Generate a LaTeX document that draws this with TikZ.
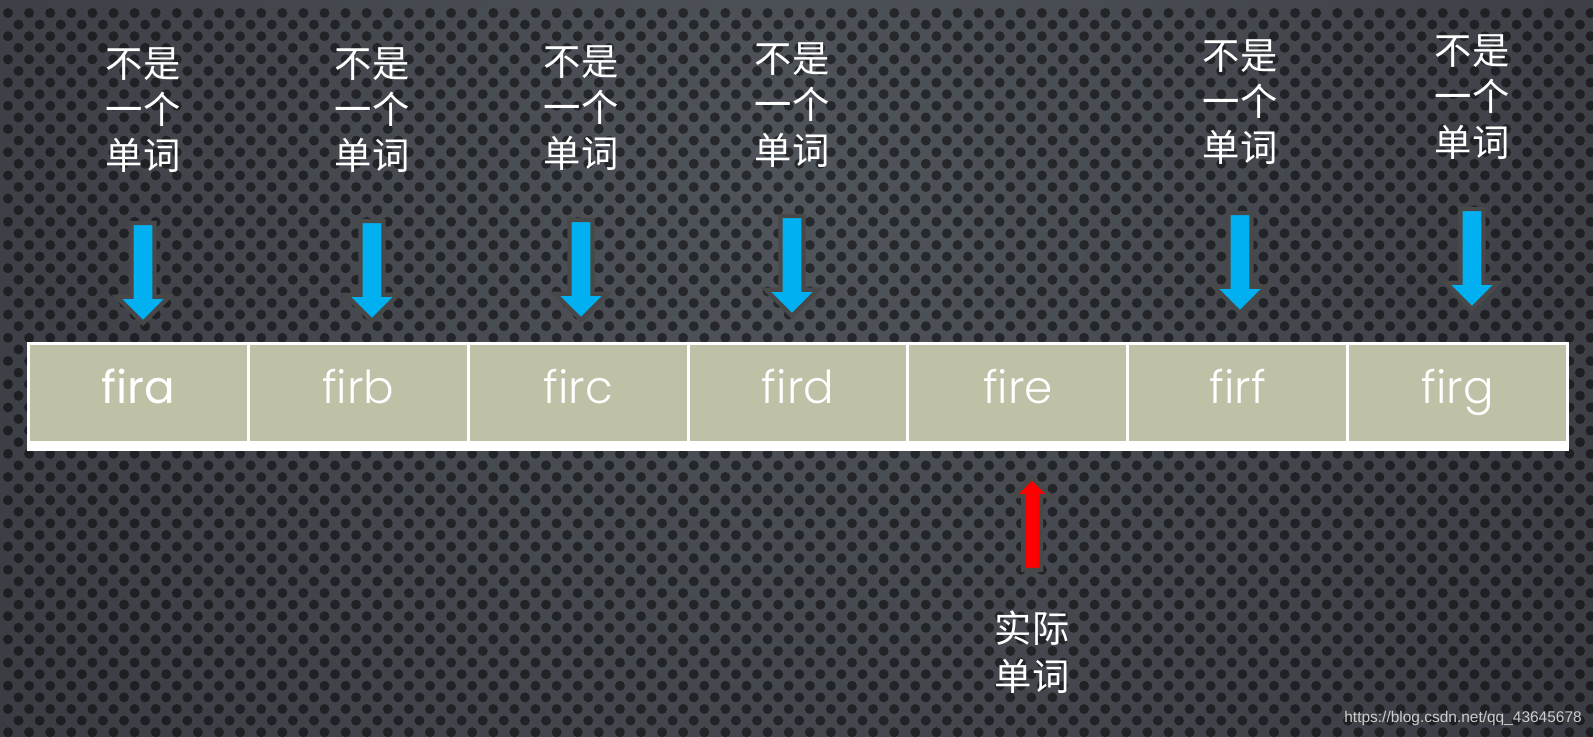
\documentclass[tikz,border=0pt]{standalone}
\usepackage{fontspec}
\usepackage{tikz}
\usetikzlibrary{positioning}
\usetikzlibrary{shapes.arrows}
\newfontfamily\cjk{Noto Sans CJK SC}
\newfontfamily\cellfont{Poppins Light}
\newfontfamily\cellfontreg{Poppins}
\newfontfamily\markfont{Liberation Sans}
\definecolor{bgin}{RGB}{80,84,91}
\definecolor{bgout}{RGB}{42,45,50}
\definecolor{cellfill}{RGB}{191,192,166}
\definecolor{arrowblue}{RGB}{0,176,240}
\definecolor{arrowedge}{RGB}{72,72,72}
\definecolor{markgray}{RGB}{205,205,205}

\begin{document}
\begin{tikzpicture}[x=0.75pt,y=-0.75pt,
  cellbox/.style={draw=white, line width=2.25pt, fill=cellfill,
    minimum width=164.9pt, minimum height=73.9pt, inner sep=0pt, outer sep=0pt,
    text=white, font=\cellfont\fontsize{34}{34}\selectfont,
    text height=20.4pt, text depth=4.4pt},
  notword/.style={text=white, align=center, inner sep=0pt,
    font=\cjk\fontsize{28}{34.5}\selectfont},
  wordarrow/.style={single arrow, draw=arrowedge, fill=arrowblue, line width=3.2pt,
    inner xsep=0pt, inner ysep=7.1pt, single arrow head extend=11pt,
    minimum height=75pt, rotate=-90},
  realarrow/.style={single arrow, draw=arrowedge, fill=red, line width=3pt,
    inner xsep=0pt, inner ysep=5.25pt, single arrow head extend=7pt,
    minimum height=69pt, rotate=90}]
\useasboundingbox (0,0) rectangle (1593,736);
% background
\begin{scope}
 \clip (0,0) rectangle (1593,736);
 \fill[bgout] (0,0) rectangle (1593,736);
 \shade[inner color=bgin, outer color=bgout] (796,200) circle[radius=1200pt];
 \foreach \r in {0,...,64} {
   \fill[black, opacity=0.5] \foreach \c in {0,...,76} {
     ({\c*21.1+mod(\r,2)*10.55+8}, {\r*11.6+13}) circle[radius=3.75pt]
   };}
\end{scope}
% the row of words
\matrix (tbl) [inner sep=0pt, column sep=-2.25pt, nodes={cellbox}] at (798,392.75) {
 \node[font=\cellfontreg\fontsize{34}{34}\selectfont](c1){fira}; &
 \node(c2){firb}; & \node(c3){firc}; & \node(c4){fird}; &
 \node(c5){fire}; & \node(c6){firf}; & \node(c7){firg}; \\
};
\fill[white] ([xshift=-1.125pt]c1.south west) rectangle ([xshift=1.125pt,yshift=-6.75pt]c7.south east);
% not a word
\node[notword] (n1) at (143,110) {不是\\一个\\单词};
\node[notword] (n2) at (372,110) {不是\\一个\\单词};
\node[notword] (n3) at (581,108) {不是\\一个\\单词};
\node[notword] (n4) at (792,105) {不是\\一个\\单词};
\node[notword] (n6) at (1240,102) {不是\\一个\\单词};
\node[notword] (n7) at (1472,97) {不是\\一个\\单词};
\node[wordarrow, anchor=tip] (a1) at (143,326) {};
\node[wordarrow, anchor=tip] (a2) at (372,324) {};
\node[wordarrow, anchor=tip] (a3) at (581,323) {};
\node[wordarrow, anchor=tip] (a4) at (792,319) {};
\node[wordarrow, anchor=tip] (a6) at (1240,316) {};
\node[wordarrow, anchor=tip] (a7) at (1472,312) {};
% the real word
\node[realarrow, anchor=tip] (ra) at (1032,475) {};
\node[notword, font=\cjk\fontsize{28}{36}\selectfont] (real) at (1032,652) {实际\\单词};
\node[anchor=base east, inner sep=0pt, text=markgray,
  font=\markfont\fontsize{11.6}{12}\selectfont] (mark) at (1582,722) {https://blog.csdn.net/qq\_43645678};
\end{tikzpicture}
\end{document}
